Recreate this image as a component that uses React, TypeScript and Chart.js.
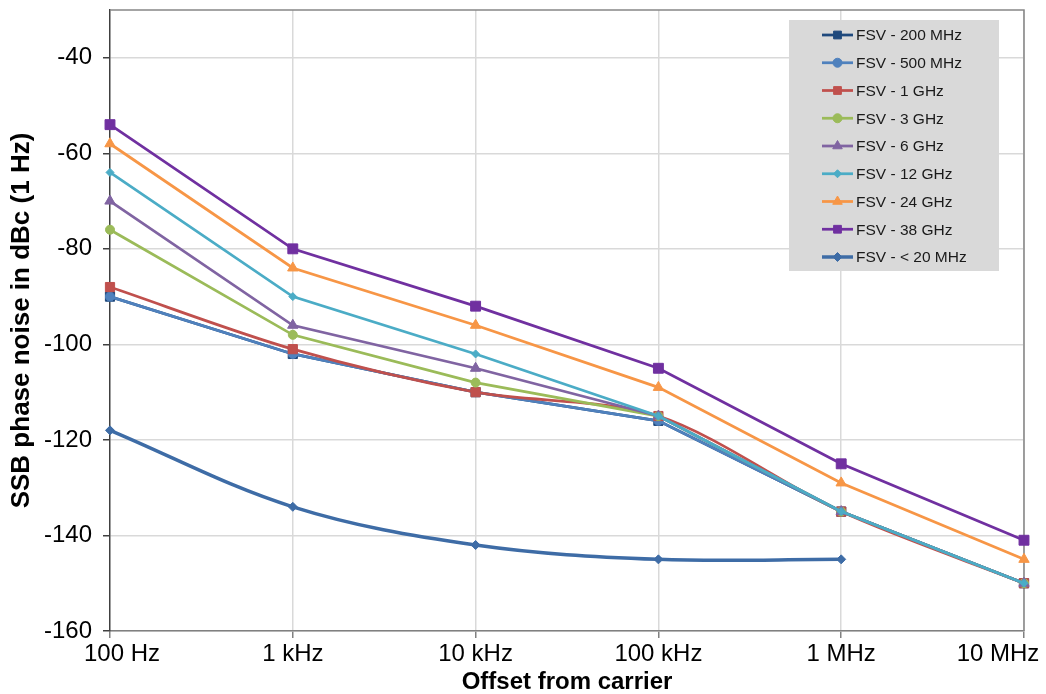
import React, { useEffect, useRef } from 'react';
import { Chart, registerables } from 'chart.js';

Chart.register(...registerables);

// ---- data ----
const categories = ['100 Hz', '1 kHz', '10 kHz', '100 kHz', '1 MHz', '10 MHz'];
const seriesNames = [
  'FSV - 200 MHz',
  'FSV - 500 MHz',
  'FSV - 1 GHz',
  'FSV - 3 GHz',
  'FSV - 6 GHz',
  'FSV - 12 GHz',
  'FSV - 24 GHz',
  'FSV - 38 GHz',
  'FSV - < 20 MHz',
];
const fsv200MHz = [-90, -102, -110, -116, -135, -150];
const fsv500MHz = [-90, -102, -110, -116, -135, -150];
const fsv1GHz = [-88, -101, -110, -115, -135, -150];
const fsv3GHz = [-76, -98, -108, -115, -135, -150];
const fsv6GHz = [-70, -96, -105, -115, -135, -150];
const fsv12GHz = [-64, -90, -102, -115, -135, -150];
const fsv24GHz = [-58, -84, -96, -109, -129, -145];
const fsv38GHz = [-54, -80, -92, -105, -125, -141];
const fsvBelow20MHz = [-118, -134, -142, -145, -145, null];
const yTickValues = [-160, -140, -120, -100, -80, -60, -40];

const seriesValues = [
  fsv200MHz, fsv500MHz, fsv1GHz, fsv3GHz, fsv6GHz,
  fsv12GHz, fsv24GHz, fsv38GHz, fsvBelow20MHz,
];

// ---- styles ----
const seriesColors = [
  '#1F497D', '#4F81BD', '#C0504D', '#9BBB59', '#8064A2',
  '#4BACC6', '#F79646', '#7030A0', '#3E6CA6',
];
const seriesMarkers = [
  'rect', 'circle', 'rect', 'circle', 'triangle',
  'rectRot', 'triangle', 'rect', 'rectRot',
];
const seriesMarkerRadius = [6.5, 4.5, 6.5, 4.5, 6, 4, 6, 7, 4.5];
const seriesLineWidth = [2.75, 2.75, 2.75, 2.75, 2.75, 2.75, 2.75, 2.75, 3.5];
const seriesTension = [0, 0, 0.3, 0, 0, 0, 0, 0, 0.35];

const FONT = "'Liberation Sans', Arial, sans-serif";

function drawMarker(ctx: CanvasRenderingContext2D, style: string, x: number, y: number, r: number, color: string) {
  ctx.save();
  ctx.fillStyle = color;
  ctx.strokeStyle = color;
  ctx.lineWidth = 1;
  ctx.beginPath();
  if (style === 'rect') {
    const s = Math.SQRT1_2 * r;
    ctx.rect(x - s, y - s, 2 * s, 2 * s);
  } else if (style === 'circle') {
    ctx.arc(x, y, r, 0, Math.PI * 2);
  } else if (style === 'triangle') {
    let rad = 0;
    ctx.moveTo(x + Math.sin(rad) * r, y - Math.cos(rad) * r);
    rad += (2 * Math.PI) / 3;
    ctx.lineTo(x + Math.sin(rad) * r, y - Math.cos(rad) * r);
    rad += (2 * Math.PI) / 3;
    ctx.lineTo(x + Math.sin(rad) * r, y - Math.cos(rad) * r);
    ctx.closePath();
  } else {
    ctx.moveTo(x - r, y);
    ctx.lineTo(x, y - r);
    ctx.lineTo(x + r, y);
    ctx.lineTo(x, y + r);
    ctx.closePath();
  }
  ctx.fill();
  ctx.stroke();
  ctx.restore();
}

const framePlugin = {
  id: 'frame',
  beforeDatasetsDraw(chart: any) {
    const { ctx, chartArea: a } = chart;
    ctx.save();
    ctx.strokeStyle = '#868686';
    ctx.lineWidth = 1.5;
    ctx.beginPath();
    ctx.moveTo(a.left, a.top);
    ctx.lineTo(a.right, a.top);
    ctx.lineTo(a.right, a.bottom);
    ctx.stroke();
    ctx.restore();
  },
};

const labelShiftPlugin = {
  id: 'labelShift',
  beforeDraw(chart: any) {
    const xs = chart.scales.x;
    if (!xs) return;
    const items = xs.getLabelItems(chart.chartArea);
    if (!items || !items.length) return;
    items[0].options.translation[0] += 12;
    items[items.length - 1].options.translation[0] -= 26;
  },
};

const legendPlugin = {
  id: 'insideLegend',
  afterDraw(chart: any) {
    const { ctx, chartArea: a } = chart;
    const x0 = a.right - 235;
    const y0 = a.top + 10;
    const w = 210;
    const h = 251;
    ctx.save();
    ctx.fillStyle = '#D9D9D9';
    ctx.fillRect(x0, y0, w, h);
    const ds = chart.data.datasets;
    ctx.font = `15.5px ${FONT}`;
    ctx.textBaseline = 'middle';
    ctx.textAlign = 'left';
    for (let i = 0; i < ds.length; i++) {
      const d = ds[i];
      const cy = y0 + 15 + i * 27.75;
      ctx.strokeStyle = d.borderColor;
      ctx.lineWidth = d.borderWidth;
      ctx.beginPath();
      ctx.moveTo(x0 + 33, cy);
      ctx.lineTo(x0 + 64, cy);
      ctx.stroke();
      drawMarker(ctx, d.pointStyle, x0 + 48.5, cy, Math.min(d.pointRadius, 5.5), d.borderColor);
      ctx.fillStyle = '#1A1A1A';
      ctx.fillText(d.label, x0 + 67, cy + 1);
    }
    ctx.restore();
  },
};

export default function App() {
  const canvasRef = useRef<HTMLCanvasElement | null>(null);

  useEffect(() => {
    const canvas = canvasRef.current;
    if (!canvas) return;
    const n = seriesNames.length;
    const datasets = seriesNames.map((name, i) => ({
      label: name,
      data: seriesValues[i],
      borderColor: seriesColors[i],
      backgroundColor: seriesColors[i],
      pointBackgroundColor: seriesColors[i],
      pointBorderColor: seriesColors[i],
      pointBorderWidth: 1,
      pointStyle: seriesMarkers[i],
      pointRadius: seriesMarkerRadius[i],
      borderWidth: seriesLineWidth[i],
      tension: seriesTension[i],
      spanGaps: false,
      order: n - 1 - i,
    }));

    const chart = new Chart(canvas, {
      type: 'line',
      data: { labels: categories, datasets },
      plugins: [framePlugin, labelShiftPlugin, legendPlugin],
      options: {
        responsive: false,
        animation: false,
        devicePixelRatio: 1,
        layout: { padding: { top: 10, right: 22, left: 0, bottom: 0 } },
        plugins: {
          legend: { display: false },
          tooltip: { enabled: false },
        },
        scales: {
          x: {
            type: 'category',
            offset: false,
            grid: {
              color: (c: any) => (c.index === 0 ? 'rgba(0,0,0,0)' : '#D9D9D9'),
              lineWidth: 1.5,
              tickLength: 7,
              tickColor: '#808080',
            },
            border: { color: '#808080', width: 1.5 },
            ticks: {
              font: { family: FONT, size: 24 },
              color: '#000000',
              padding: 2,
              maxRotation: 0,
              autoSkip: false,
            },
            title: {
              display: true,
              text: 'Offset from carrier',
              font: { family: FONT, size: 24, weight: 'bold', lineHeight: 1 },
              color: '#000000',
              padding: { top: 0, bottom: 0 },
            },
            afterFit: (s: any) => {
              s.height = 63;
              s.paddingLeft = 0;
              s.paddingRight = 0;
            },
          },
          y: {
            type: 'linear',
            min: -160,
            max: -30,
            grid: {
              color: '#D9D9D9',
              lineWidth: 1.5,
              tickLength: 7,
              tickColor: '#404040',
            },
            border: { color: '#404040', width: 1.5 },
            ticks: {
              stepSize: 20,
              font: { family: FONT, size: 24 },
              color: '#000000',
              padding: 11,
            },
            afterBuildTicks: (s: any) => {
              s.ticks = yTickValues.map((v) => ({ value: v }));
            },
            title: {
              display: true,
              text: 'SSB phase noise in dBc (1 Hz)',
              font: { family: FONT, size: 26, weight: 'bold', lineHeight: 1 },
              color: '#000000',
              padding: { top: 9, bottom: 0 },
            },
            afterFit: (s: any) => {
              s.width = 110;
              s.paddingTop = 0;
              s.paddingBottom = 0;
            },
          },
        },
      },
    } as any);

    return () => chart.destroy();
  }, []);

  return (
    <div style={{ position: 'fixed', left: 0, top: 0, width: 1046, height: 694, background: '#FFFFFF' }}>
      <canvas ref={canvasRef} width={1046} height={694} style={{ display: 'block' }} />
    </div>
  );
}
